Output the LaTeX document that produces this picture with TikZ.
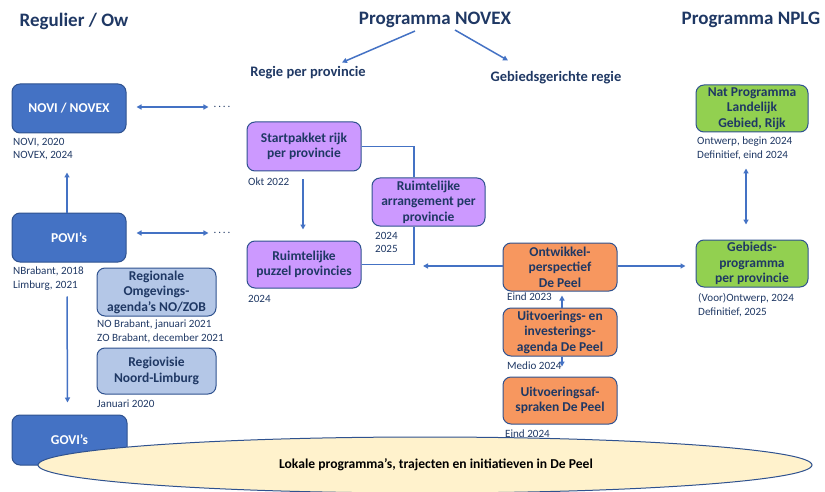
\documentclass[tikz,border=0pt]{standalone}
\usepackage{fontspec}
\setmainfont{Carlito}
\usetikzlibrary{calc,arrows.meta,shapes.geometric}
\definecolor{navy}{HTML}{1F3864}
\definecolor{bblue}{HTML}{4472C4}
\definecolor{bborder}{HTML}{2F528F}
\definecolor{lblue}{HTML}{B4C7E7}
\definecolor{purp}{HTML}{CC99FF}
\definecolor{oran}{HTML}{F7975F}
\definecolor{grn}{HTML}{92D050}
\definecolor{ylw}{HTML}{FFF2CC}
\tikzset{
  box/.style={draw=bborder, line width=1pt, rounded corners=8pt, align=center, inner sep=0pt,
    font=\fontsize{13.5}{15.5}\selectfont\bfseries, text=navy},
  bluebox/.style={box, fill=bblue, text=white},
  lbox/.style={box, fill=lblue},
  pbox/.style={box, fill=purp},
  obox/.style={box, fill=oran},
  gbox/.style={box, fill=grn},
  datelbl/.style={anchor=west, align=left, inner sep=0pt, text=navy, font=\fontsize{11.1}{13.5}\selectfont},
  headline/.style={text=navy, font=\fontsize{19}{22}\selectfont\bfseries, inner sep=0pt},
  sublbl/.style={text=navy, font=\fontsize{14.5}{16}\selectfont\bfseries, inner sep=0pt},
  conn/.style={draw=bblue, line width=1.5pt},
  arr/.style={conn, -{Triangle[length=5pt,width=5pt]}},
  darr/.style={conn, {Triangle[length=5pt,width=5pt]}-{Triangle[length=5pt,width=5pt]}},
  dots/.style={text=navy, inner sep=0pt, font=\fontsize{11}{13}\selectfont}
}
\begin{document}
\begin{tikzpicture}[x=1pt,y=-1pt]
\useasboundingbox (0,0) rectangle (825,492);
% headlines
\node[headline] (regulier) at (74,21) {Regulier / Ow};
\node[headline] (novex) at (435,20) {Programma NOVEX};
\node[headline] (nplg) at (751,20) {Programma NPLG};
\node[sublbl] (regie) at (308,73) {Regie per provincie};
\node[sublbl] (gebregie) at (556,78) {Gebiedsgerichte regie};
\draw[arr] ($(novex.south)+(-20,3)$) -- ($(regie.north)+(34,-4)$);
\draw[arr] ($(novex.south)+(20,2)$) -- ($(gebregie.north)+(-48,-11)$);

% left column
\node[bluebox, minimum width=114pt, minimum height=49pt] (novi) at (69,108.5) {NOVI / NOVEX};
\node[datelbl] (novidate) at (13,149) {NOVI, 2020\\NOVEX, 2024};
\node[bluebox, minimum width=114pt, minimum height=49pt] (povi) at (69,237.5) {POVI’s};
\node[datelbl] (povidate) at (13,278.5) {NBrabant, 2018\\Limburg, 2021};
\node[bluebox, minimum width=115pt, minimum height=50pt] (govi) at (69.5,440) {GOVI’s};
\node[dots] (dots1) at (222,107) {.\,.\,.\,.};
\node[dots] (dots2) at (222,233) {.\,.\,.\,.};
\draw[darr] ($(novi.east)+(10,-1.5)$) -- ($(dots1.west)+(-5,0)$);
\draw[darr] ($(povi.east)+(10,-4.5)$) -- ($(dots2.west)+(-5,0)$);
\draw[arr] ($(povi.north)+(-2,0)$) -- ($(novi.south)+(-2,39)$);
\draw[arr] ($(povi.south)+(-2,34)$) -- ($(govi.north)+(-2,-12)$);

\node[lbox, minimum width=119pt, minimum height=48pt] (regionale) at (156.5,292) {Regionale\\Omgevings-\\agenda’s NO/ZOB};
\node[datelbl] (regdate) at (97,331.5) {NO Brabant, januari 2021\\ZO Brabant, december 2021};
\node[lbox, minimum width=119pt, minimum height=46pt] (regiovisie) at (156.5,371) {Regiovisie\\Noord-Limburg};
\node[datelbl] (visdate) at (97,403.5) {Januari 2020};

% purple
\node[pbox, minimum width=114pt, minimum height=49pt] (start) at (304,146.5) {Startpakket rijk\\per provincie};
\node[datelbl] (startdate) at (248,181.5) {Okt 2022};
\node[pbox, minimum width=114pt, minimum height=47pt] (puzzel) at (304,264.5) {Ruimtelijke\\puzzel provincies};
\node[datelbl] (puzdate) at (248,298.5) {2024};
\node[pbox, minimum width=113pt, minimum height=48pt] (arrang) at (428.5,202) {Ruimtelijke\\arrangement per\\provincie};
\node[datelbl] (arrdate) at (375,242.5) {2024\\2025};
\draw[arr] ($(start.south)+(-1,8)$) -- ($(puzzel.north)+(-1,-11)$);
\draw[conn] (start.east) -| ($(arrang.north)+(-14.5,0)$);
\draw[conn] ($(arrang.south)+(-14.5,0)$) |- (puzzel.east);

% green
\node[gbox, minimum width=112pt, minimum height=47pt] (nat) at (752,108.5) {Nat Programma\\Landelijk\\Gebied, Rijk};
\node[datelbl] (natdate) at (697,148.5) {Ontwerp, begin 2024\\Definitief, eind 2024};
\node[gbox, minimum width=112pt, minimum height=47pt] (gebieds) at (752,263.5) {Gebieds-\\programma\\per provincie};
\node[datelbl] (gebdate) at (698,305) {(Voor)Ontwerp, 2024\\Definitief, 2025};
\draw[darr] ($(nat.south)+(-6,36)$) -- ($(gebieds.north)+(-6,-15)$);

% orange
\node[obox, minimum width=114pt, minimum height=48pt] (ontw) at (560,267) {Ontwikkel-\\perspectief\\De Peel};
\node[datelbl] (ontwdate) at (507,296.5) {Eind 2023};
\node[obox, minimum width=114pt, minimum height=48pt] (uitv) at (560,332) {Uitvoerings- en\\investerings-\\agenda De Peel};
\node[datelbl] (uitvdate) at (507,365.5) {Medio 2024};
\node[obox, minimum width=114pt, minimum height=47pt] (afspr) at (560,400.5) {Uitvoeringsaf-\\spraken De Peel};
\node[datelbl] (afsprdate) at (505,433.5) {Eind 2024};
\coordinate (pzl) at (423,266);
\draw[arr] ($(ontw.west)+(0,-1)$) -- (pzl);
\draw[arr] ($(ontw.east)+(0,-1)$) -- ($(ontw.east -| gebieds.west)+(-10,-1)$);
\draw[arr] ($(uitv.north)+(2,0)$) -- ($(ontw.south)+(2,4)$);
\draw[arr] ($(uitv.south)+(2,0)$) -- ($(afspr.north)+(2,-10)$);

% ellipse
\node[ellipse, draw=bborder, line width=1pt, fill=ylw, minimum width=774pt, minimum height=56pt,
  font=\fontsize{13.6}{15}\selectfont\bfseries] (lokaal) at (425,465) {\hspace*{22pt}Lokale programma’s, trajecten en initiatieven in De Peel};
\end{tikzpicture}
\end{document}
